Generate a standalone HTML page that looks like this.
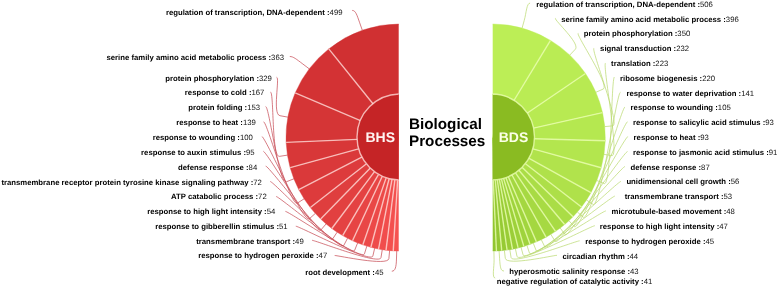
<!DOCTYPE html>
<html><head><meta charset="utf-8"><title>Biological Processes</title>
<style>html,body{margin:0;padding:0;background:#fff}svg{display:block}text{text-rendering:geometricPrecision}</style></head>
<body>
<svg width="778" height="287" viewBox="0 0 778 287">
<rect width="778" height="287" fill="#fff"/>
<defs><clipPath id="clip-bhs"><rect x="0" y="0" width="398.7" height="287"/></clipPath><clipPath id="clip-bds"><rect x="492.7" y="0" width="300" height="287"/></clipPath></defs>
<g id="bhs">
<g clip-path="url(#clip-bhs)">
<path d="M400.20,137.50L400.20,23.90A114.17,113.6 0 0 0 328.77,48.88Z" fill="#d03032" stroke="#d03032" stroke-width="0.4"/>
<path d="M400.20,137.50L328.77,48.88A114.17,113.6 0 0 0 295.18,92.95Z" fill="#d33234" stroke="#d33234" stroke-width="0.4"/>
<path d="M400.20,137.50L295.18,92.95A114.17,113.6 0 0 0 286.14,142.35Z" fill="#d53536" stroke="#d53536" stroke-width="0.4"/>
<path d="M400.20,137.50L286.14,142.35A114.17,113.6 0 0 0 290.14,167.68Z" fill="#d83738" stroke="#d83738" stroke-width="0.4"/>
<path d="M400.20,137.50L290.14,167.68A114.17,113.6 0 0 0 298.73,189.57Z" fill="#da393a" stroke="#da393a" stroke-width="0.4"/>
<path d="M400.20,137.50L298.73,189.57A114.17,113.6 0 0 0 310.32,207.55Z" fill="#dd3b3c" stroke="#dd3b3c" stroke-width="0.4"/>
<path d="M400.20,137.50L310.32,207.55A114.17,113.6 0 0 0 320.66,218.99Z" fill="#df3e3e" stroke="#df3e3e" stroke-width="0.4"/>
<path d="M400.20,137.50L320.66,218.99A114.17,113.6 0 0 0 331.82,228.47Z" fill="#e24040" stroke="#e24040" stroke-width="0.4"/>
<path d="M400.20,137.50L331.82,228.47A114.17,113.6 0 0 0 342.65,235.61Z" fill="#e44242" stroke="#e44242" stroke-width="0.4"/>
<path d="M400.20,137.50L342.65,235.61A114.17,113.6 0 0 0 352.52,240.72Z" fill="#e74444" stroke="#e74444" stroke-width="0.4"/>
<path d="M400.20,137.50L352.52,240.72A114.17,113.6 0 0 0 362.85,244.85Z" fill="#e94746" stroke="#e94746" stroke-width="0.4"/>
<path d="M400.20,137.50L362.85,244.85A114.17,113.6 0 0 0 370.84,247.28Z" fill="#ec4948" stroke="#ec4948" stroke-width="0.4"/>
<path d="M400.20,137.50L370.84,247.28A114.17,113.6 0 0 0 378.52,249.03Z" fill="#ee4b4a" stroke="#ee4b4a" stroke-width="0.4"/>
<path d="M400.20,137.50L378.52,249.03A114.17,113.6 0 0 0 386.01,250.22Z" fill="#f14d4c" stroke="#f14d4c" stroke-width="0.4"/>
<path d="M400.20,137.50L386.01,250.22A114.17,113.6 0 0 0 393.24,250.89Z" fill="#f3504e" stroke="#f3504e" stroke-width="0.4"/>
<path d="M400.20,137.50L393.24,250.89A114.17,113.6 0 0 0 400.20,251.10Z" fill="#f65250" stroke="#f65250" stroke-width="0.4"/>
<line x1="373.16" y1="103.96" x2="328.77" y2="48.88" stroke="#ffdcd8" stroke-opacity="0.78" stroke-width="1.4"/>
<line x1="360.45" y1="120.64" x2="295.18" y2="92.95" stroke="#ffdcd8" stroke-opacity="0.78" stroke-width="1.4"/>
<line x1="357.02" y1="139.33" x2="286.14" y2="142.35" stroke="#ffdcd8" stroke-opacity="0.78" stroke-width="1.4"/>
<line x1="358.54" y1="148.92" x2="290.14" y2="167.68" stroke="#ffdcd8" stroke-opacity="0.78" stroke-width="1.4"/>
<line x1="361.79" y1="157.21" x2="298.73" y2="189.57" stroke="#ffdcd8" stroke-opacity="0.78" stroke-width="1.4"/>
<line x1="366.18" y1="164.02" x2="310.32" y2="207.55" stroke="#ffdcd8" stroke-opacity="0.78" stroke-width="1.4"/>
<line x1="370.09" y1="168.35" x2="320.66" y2="218.99" stroke="#ffdcd8" stroke-opacity="0.78" stroke-width="1.4"/>
<line x1="374.32" y1="171.94" x2="331.82" y2="228.47" stroke="#ffdcd8" stroke-opacity="0.78" stroke-width="1.4"/>
<line x1="378.42" y1="174.64" x2="342.65" y2="235.61" stroke="#ffdcd8" stroke-opacity="0.78" stroke-width="1.4"/>
<line x1="382.15" y1="176.57" x2="352.52" y2="240.72" stroke="#ffdcd8" stroke-opacity="0.78" stroke-width="1.4"/>
<line x1="386.06" y1="178.13" x2="362.85" y2="244.85" stroke="#ffdcd8" stroke-opacity="0.78" stroke-width="1.4"/>
<line x1="389.09" y1="179.05" x2="370.84" y2="247.28" stroke="#ffdcd8" stroke-opacity="0.78" stroke-width="1.4"/>
<line x1="392.00" y1="179.72" x2="378.52" y2="249.03" stroke="#ffdcd8" stroke-opacity="0.78" stroke-width="1.4"/>
<line x1="394.83" y1="180.17" x2="386.01" y2="250.22" stroke="#ffdcd8" stroke-opacity="0.78" stroke-width="1.4"/>
<line x1="397.57" y1="180.42" x2="393.24" y2="250.89" stroke="#ffdcd8" stroke-opacity="0.78" stroke-width="1.4"/>
<path d="M400.20,94.00A43.21,43.0 0 0 0 400.20,180.00Z" fill="#c52426" stroke="#ffdcd8" stroke-opacity="0.78" stroke-width="1.4"/>
</g>
<path d="M352.20,10.40C355.70,10.40 357.01,15.23 359.68,22.78L362.34,30.33" fill="none" stroke="#c4444e" stroke-width="0.7"/>
<path d="M289.80,56.50C293.30,56.50 296.43,59.18 302.83,64.01L309.24,68.85" fill="none" stroke="#c4444e" stroke-width="0.7"/>
<path d="M276.60,77.30C280.10,77.30 272.06,114.28 279.97,115.71L287.88,117.14" fill="none" stroke="#c4444e" stroke-width="0.7"/>
<path d="M270.50,92.10C274.00,92.10 271.53,157.61 279.47,156.37L287.41,155.13" fill="none" stroke="#c4444e" stroke-width="0.7"/>
<path d="M265.70,106.60C269.20,106.60 278.89,184.67 286.38,181.76L293.86,178.85" fill="none" stroke="#c4444e" stroke-width="0.7"/>
<path d="M263.60,121.80C267.10,121.80 290.57,207.47 297.34,203.15L304.10,198.83" fill="none" stroke="#c4444e" stroke-width="0.7"/>
<path d="M261.90,136.60C265.40,136.60 303.34,224.14 309.32,218.79L315.29,213.44" fill="none" stroke="#c4444e" stroke-width="0.7"/>
<path d="M263.30,151.30C266.80,151.30 315.65,236.08 320.87,229.99L326.09,223.91" fill="none" stroke="#c4444e" stroke-width="0.7"/>
<path d="M265.70,166.10C269.20,166.10 328.25,245.53 332.69,238.86L337.13,232.19" fill="none" stroke="#c4444e" stroke-width="0.7"/>
<path d="M270.20,181.50C273.70,181.50 340.10,252.48 343.81,245.38L347.52,238.29" fill="none" stroke="#c4444e" stroke-width="0.7"/>
<path d="M276.10,196.50C279.60,196.50 351.64,257.76 354.64,250.33L357.64,242.91" fill="none" stroke="#c4444e" stroke-width="0.7"/>
<path d="M285.40,211.40C288.90,211.40 362.12,261.44 364.47,253.79L366.82,246.14" fill="none" stroke="#c4444e" stroke-width="0.7"/>
<path d="M295.80,226.20C299.30,226.20 371.07,263.82 372.87,256.02L374.67,248.22" fill="none" stroke="#c4444e" stroke-width="0.7"/>
<path d="M312.00,240.30C315.50,240.30 379.73,265.49 380.99,257.59L382.26,249.69" fill="none" stroke="#c4444e" stroke-width="0.7"/>
<path d="M334.70,255.50C338.20,255.50 388.13,266.54 388.88,258.58L389.62,250.61" fill="none" stroke="#c4444e" stroke-width="0.7"/>
<path d="M391.80,271.20C395.30,271.20 396.23,267.04 396.48,259.04L396.72,251.05" fill="none" stroke="#c4444e" stroke-width="0.7"/>
</g>
<g id="bds">
<g clip-path="url(#clip-bds)">
<path d="M491.40,137.50L491.40,23.90A113.88,113.6 0 0 1 550.49,40.39Z" fill="#bcee56" stroke="#bcee56" stroke-width="0.4"/>
<path d="M491.40,137.50L550.49,40.39A113.88,113.6 0 0 1 585.50,73.51Z" fill="#baec54" stroke="#baec54" stroke-width="0.4"/>
<path d="M491.40,137.50L585.50,73.51A113.88,113.6 0 0 1 602.51,112.60Z" fill="#b8ea52" stroke="#b8ea52" stroke-width="0.4"/>
<path d="M491.40,137.50L602.51,112.60A113.88,113.6 0 0 1 605.24,140.81Z" fill="#b5e850" stroke="#b5e850" stroke-width="0.4"/>
<path d="M491.40,137.50L605.24,140.81A113.88,113.6 0 0 1 601.17,167.75Z" fill="#b3e64e" stroke="#b3e64e" stroke-width="0.4"/>
<path d="M491.40,137.50L601.17,167.75A113.88,113.6 0 0 1 590.97,192.63Z" fill="#b1e34c" stroke="#b1e34c" stroke-width="0.4"/>
<path d="M491.40,137.50L590.97,192.63A113.88,113.6 0 0 1 581.46,207.04Z" fill="#afe14a" stroke="#afe14a" stroke-width="0.4"/>
<path d="M491.40,137.50L581.46,207.04A113.88,113.6 0 0 1 573.01,216.74Z" fill="#addf48" stroke="#addf48" stroke-width="0.4"/>
<path d="M491.40,137.50L573.01,216.74A113.88,113.6 0 0 1 564.65,224.49Z" fill="#aadd46" stroke="#aadd46" stroke-width="0.4"/>
<path d="M491.40,137.50L564.65,224.49A113.88,113.6 0 0 1 555.55,231.36Z" fill="#a8db44" stroke="#a8db44" stroke-width="0.4"/>
<path d="M491.40,137.50L555.55,231.36A113.88,113.6 0 0 1 546.02,237.18Z" fill="#a6d942" stroke="#a6d942" stroke-width="0.4"/>
<path d="M491.40,137.50L546.02,237.18A113.88,113.6 0 0 1 536.42,241.85Z" fill="#a4d740" stroke="#a4d740" stroke-width="0.4"/>
<path d="M491.40,137.50L536.42,241.85A113.88,113.6 0 0 1 530.03,244.36Z" fill="#a1d53e" stroke="#a1d53e" stroke-width="0.4"/>
<path d="M491.40,137.50L530.03,244.36A113.88,113.6 0 0 1 523.85,246.39Z" fill="#9fd33c" stroke="#9fd33c" stroke-width="0.4"/>
<path d="M491.40,137.50L523.85,246.39A113.88,113.6 0 0 1 518.16,247.92Z" fill="#9dd13a" stroke="#9dd13a" stroke-width="0.4"/>
<path d="M491.40,137.50L518.16,247.92A113.88,113.6 0 0 1 512.52,249.13Z" fill="#9bce38" stroke="#9bce38" stroke-width="0.4"/>
<path d="M491.40,137.50L512.52,249.13A113.88,113.6 0 0 1 507.07,250.02Z" fill="#99cc36" stroke="#99cc36" stroke-width="0.4"/>
<path d="M491.40,137.50L507.07,250.02A113.88,113.6 0 0 1 501.70,250.63Z" fill="#96ca34" stroke="#96ca34" stroke-width="0.4"/>
<path d="M491.40,137.50L501.70,250.63A113.88,113.6 0 0 1 496.43,250.99Z" fill="#94c832" stroke="#94c832" stroke-width="0.4"/>
<path d="M491.40,137.50L496.43,250.99A113.88,113.6 0 0 1 491.40,251.10Z" fill="#92c630" stroke="#92c630" stroke-width="0.4"/>
<line x1="513.77" y1="100.74" x2="550.49" y2="40.39" stroke="#ecffb4" stroke-opacity="0.78" stroke-width="1.4"/>
<line x1="527.02" y1="113.28" x2="585.50" y2="73.51" stroke="#ecffb4" stroke-opacity="0.78" stroke-width="1.4"/>
<line x1="533.46" y1="128.07" x2="602.51" y2="112.60" stroke="#ecffb4" stroke-opacity="0.78" stroke-width="1.4"/>
<line x1="534.49" y1="138.75" x2="605.24" y2="140.81" stroke="#ecffb4" stroke-opacity="0.78" stroke-width="1.4"/>
<line x1="532.95" y1="148.95" x2="601.17" y2="167.75" stroke="#ecffb4" stroke-opacity="0.78" stroke-width="1.4"/>
<line x1="529.09" y1="158.37" x2="590.97" y2="192.63" stroke="#ecffb4" stroke-opacity="0.78" stroke-width="1.4"/>
<line x1="525.49" y1="163.82" x2="581.46" y2="207.04" stroke="#ecffb4" stroke-opacity="0.78" stroke-width="1.4"/>
<line x1="522.29" y1="167.49" x2="573.01" y2="216.74" stroke="#ecffb4" stroke-opacity="0.78" stroke-width="1.4"/>
<line x1="519.12" y1="170.43" x2="564.65" y2="224.49" stroke="#ecffb4" stroke-opacity="0.78" stroke-width="1.4"/>
<line x1="515.68" y1="173.03" x2="555.55" y2="231.36" stroke="#ecffb4" stroke-opacity="0.78" stroke-width="1.4"/>
<line x1="512.08" y1="175.23" x2="546.02" y2="237.18" stroke="#ecffb4" stroke-opacity="0.78" stroke-width="1.4"/>
<line x1="508.44" y1="177.00" x2="536.42" y2="241.85" stroke="#ecffb4" stroke-opacity="0.78" stroke-width="1.4"/>
<line x1="506.02" y1="177.95" x2="530.03" y2="244.36" stroke="#ecffb4" stroke-opacity="0.78" stroke-width="1.4"/>
<line x1="503.68" y1="178.72" x2="523.85" y2="246.39" stroke="#ecffb4" stroke-opacity="0.78" stroke-width="1.4"/>
<line x1="501.53" y1="179.30" x2="518.16" y2="247.92" stroke="#ecffb4" stroke-opacity="0.78" stroke-width="1.4"/>
<line x1="499.39" y1="179.75" x2="512.52" y2="249.13" stroke="#ecffb4" stroke-opacity="0.78" stroke-width="1.4"/>
<line x1="497.33" y1="180.09" x2="507.07" y2="250.02" stroke="#ecffb4" stroke-opacity="0.78" stroke-width="1.4"/>
<line x1="495.30" y1="180.32" x2="501.70" y2="250.63" stroke="#ecffb4" stroke-opacity="0.78" stroke-width="1.4"/>
<line x1="493.30" y1="180.46" x2="496.43" y2="250.99" stroke="#ecffb4" stroke-opacity="0.78" stroke-width="1.4"/>
<path d="M491.40,94.00A43.11,43.0 0 0 1 491.40,180.00Z" fill="#8abb22" stroke="#ecffb4" stroke-opacity="0.78" stroke-width="1.4"/>
</g>
<path d="M530.10,3.10C526.60,3.10 526.40,12.69 524.24,20.40L522.08,28.10" fill="none" stroke="#b8d86c" stroke-width="0.7"/>
<path d="M555.70,18.30C552.20,18.30 580.81,43.47 575.29,49.27L569.77,55.08" fill="none" stroke="#b8d86c" stroke-width="0.7"/>
<path d="M578.30,33.30C574.80,33.30 610.57,85.88 603.22,89.06L595.86,92.25" fill="none" stroke="#b8d86c" stroke-width="0.7"/>
<path d="M594.00,48.30C590.50,48.30 620.73,125.08 612.74,125.85L604.76,126.62" fill="none" stroke="#b8d86c" stroke-width="0.7"/>
<path d="M605.60,63.10C602.10,63.10 619.88,156.78 611.95,155.59L604.02,154.40" fill="none" stroke="#b8d86c" stroke-width="0.7"/>
<path d="M614.50,77.00C611.00,77.00 611.66,186.55 604.24,183.52L596.81,180.49" fill="none" stroke="#b8d86c" stroke-width="0.7"/>
<path d="M620.40,92.30C616.90,92.30 599.88,208.82 593.19,204.42L586.49,200.01" fill="none" stroke="#b8d86c" stroke-width="0.7"/>
<path d="M625.00,107.00C621.50,107.00 589.48,222.50 583.42,217.25L577.37,212.01" fill="none" stroke="#b8d86c" stroke-width="0.7"/>
<path d="M627.50,121.80C624.00,121.80 579.84,232.44 574.38,226.58L568.92,220.72" fill="none" stroke="#b8d86c" stroke-width="0.7"/>
<path d="M628.00,136.50C624.50,136.50 569.87,240.79 565.03,234.42L560.18,228.04" fill="none" stroke="#b8d86c" stroke-width="0.7"/>
<path d="M627.50,151.50C624.00,151.50 559.23,248.04 555.04,241.21L550.86,234.39" fill="none" stroke="#b8d86c" stroke-width="0.7"/>
<path d="M625.00,166.50C621.50,166.50 548.30,254.01 544.79,246.82L541.28,239.63" fill="none" stroke="#b8d86c" stroke-width="0.7"/>
<path d="M621.00,181.40C617.50,181.40 539.14,258.03 536.19,250.59L533.25,243.15" fill="none" stroke="#b8d86c" stroke-width="0.7"/>
<path d="M614.90,196.10C611.40,196.10 531.96,260.62 529.46,253.02L526.95,245.42" fill="none" stroke="#b8d86c" stroke-width="0.7"/>
<path d="M605.90,210.90C602.40,210.90 525.18,262.64 523.10,254.92L521.01,247.19" fill="none" stroke="#b8d86c" stroke-width="0.7"/>
<path d="M594.90,225.70C591.40,225.70 518.72,264.20 517.03,256.38L515.35,248.56" fill="none" stroke="#b8d86c" stroke-width="0.7"/>
<path d="M579.70,240.80C576.20,240.80 512.39,265.40 511.09,257.50L509.80,249.61" fill="none" stroke="#b8d86c" stroke-width="0.7"/>
<path d="M557.00,255.30C553.50,255.30 506.22,266.25 505.30,258.31L504.39,250.36" fill="none" stroke="#b8d86c" stroke-width="0.7"/>
<path d="M504.00,271.00C500.50,271.00 500.15,266.81 499.61,258.82L499.07,250.84" fill="none" stroke="#b8d86c" stroke-width="0.7"/>
<path d="M495.20,278.00C491.70,278.00 494.27,267.07 494.09,259.07L493.92,251.07" fill="none" stroke="#b8d86c" stroke-width="0.7"/>
</g>
<g font-family="'Liberation Sans', Arial, sans-serif" font-size="7.74" fill="#000">
<text x="342.5" y="14.7" text-anchor="end"><tspan font-weight="bold">regulation of transcription, DNA-dependent :</tspan><tspan fill="#111">499</tspan></text>
<text x="284.0" y="59.5" text-anchor="end"><tspan font-weight="bold">serine family amino acid metabolic process :</tspan><tspan fill="#111">363</tspan></text>
<text x="271.9" y="80.8" text-anchor="end"><tspan font-weight="bold">protein phosphorylation :</tspan><tspan fill="#111">329</tspan></text>
<text x="264.4" y="95.4" text-anchor="end"><tspan font-weight="bold">response to cold :</tspan><tspan fill="#111">167</tspan></text>
<text x="260.1" y="110.3" text-anchor="end"><tspan font-weight="bold">protein folding :</tspan><tspan fill="#111">153</tspan></text>
<text x="255.8" y="125.2" text-anchor="end"><tspan font-weight="bold">response to heat :</tspan><tspan fill="#111">139</tspan></text>
<text x="252.8" y="140.0" text-anchor="end"><tspan font-weight="bold">response to wounding :</tspan><tspan fill="#111">100</tspan></text>
<text x="254.6" y="154.8" text-anchor="end"><tspan font-weight="bold">response to auxin stimulus :</tspan><tspan fill="#111">95</tspan></text>
<text x="257.2" y="169.6" text-anchor="end"><tspan font-weight="bold">defense response :</tspan><tspan fill="#111">84</tspan></text>
<text x="261.9" y="184.7" text-anchor="end"><tspan font-weight="bold">transmembrane receptor protein tyrosine kinase signaling pathway :</tspan><tspan fill="#111">72</tspan></text>
<text x="266.7" y="199.4" text-anchor="end"><tspan font-weight="bold">ATP catabolic process :</tspan><tspan fill="#111">72</tspan></text>
<text x="275.3" y="214.3" text-anchor="end"><tspan font-weight="bold">response to high light intensity :</tspan><tspan fill="#111">54</tspan></text>
<text x="287.6" y="228.8" text-anchor="end"><tspan font-weight="bold">response to gibberellin stimulus :</tspan><tspan fill="#111">51</tspan></text>
<text x="303.7" y="243.6" text-anchor="end"><tspan font-weight="bold">transmembrane transport :</tspan><tspan fill="#111">49</tspan></text>
<text x="327.2" y="258.4" text-anchor="end"><tspan font-weight="bold">response to hydrogen peroxide :</tspan><tspan fill="#111">47</tspan></text>
<text x="383.5" y="274.5" text-anchor="end"><tspan font-weight="bold">root development :</tspan><tspan fill="#111">45</tspan></text>
<text x="536.3" y="6.9"><tspan font-weight="bold">regulation of transcription, DNA-dependent :</tspan><tspan fill="#111">506</tspan></text>
<text x="561.2" y="21.7"><tspan font-weight="bold">serine family amino acid metabolic process :</tspan><tspan fill="#111">396</tspan></text>
<text x="583.7" y="36.4"><tspan font-weight="bold">protein phosphorylation :</tspan><tspan fill="#111">350</tspan></text>
<text x="600.1" y="51.2"><tspan font-weight="bold">signal transduction :</tspan><tspan fill="#111">232</tspan></text>
<text x="611.1" y="66.0"><tspan font-weight="bold">translation :</tspan><tspan fill="#111">223</tspan></text>
<text x="620.1" y="80.8"><tspan font-weight="bold">ribosome biogenesis :</tspan><tspan fill="#111">220</tspan></text>
<text x="626.4" y="95.6"><tspan font-weight="bold">response to water deprivation :</tspan><tspan fill="#111">141</tspan></text>
<text x="630.6" y="110.4"><tspan font-weight="bold">response to wounding :</tspan><tspan fill="#111">105</tspan></text>
<text x="632.9" y="125.1"><tspan font-weight="bold">response to salicylic acid stimulus :</tspan><tspan fill="#111">93</tspan></text>
<text x="633.6" y="139.9"><tspan font-weight="bold">response to heat :</tspan><tspan fill="#111">93</tspan></text>
<text x="632.9" y="154.7"><tspan font-weight="bold">response to jasmonic acid stimulus :</tspan><tspan fill="#111">91</tspan></text>
<text x="630.6" y="169.5"><tspan font-weight="bold">defense response :</tspan><tspan fill="#111">87</tspan></text>
<text x="626.4" y="184.3"><tspan font-weight="bold">unidimensional cell growth :</tspan><tspan fill="#111">56</tspan></text>
<text x="624.7" y="199.3"><tspan font-weight="bold">transmembrane transport :</tspan><tspan fill="#111">53</tspan></text>
<text x="611.5" y="214.2"><tspan font-weight="bold">microtubule-based movement :</tspan><tspan fill="#111">48</tspan></text>
<text x="599.8" y="229.0"><tspan font-weight="bold">response to high light intensity :</tspan><tspan fill="#111">47</tspan></text>
<text x="585.2" y="243.9"><tspan font-weight="bold">response to hydrogen peroxide :</tspan><tspan fill="#111">45</tspan></text>
<text x="562.5" y="258.6"><tspan font-weight="bold">circadian rhythm :</tspan><tspan fill="#111">44</tspan></text>
<text x="509.2" y="274.2"><tspan font-weight="bold">hyperosmotic salinity response :</tspan><tspan fill="#111">43</tspan></text>
<text x="496.7" y="284.0"><tspan font-weight="bold">negative regulation of catalytic activity :</tspan><tspan fill="#111">41</tspan></text>
</g>
<g font-family="'Liberation Sans', Arial, sans-serif" font-weight="bold">
<text x="365.5" y="142.0" font-size="14" fill="#fff4f2">BHS</text>
<text x="498.7" y="142.0" font-size="14" fill="#fbffe6">BDS</text>
<text x="409.0" y="128.6" font-size="15.25" fill="#000">Biological</text>
<text x="409.0" y="145.9" font-size="15.25" fill="#000">Processes</text>
</g>
</svg>
</body></html>
